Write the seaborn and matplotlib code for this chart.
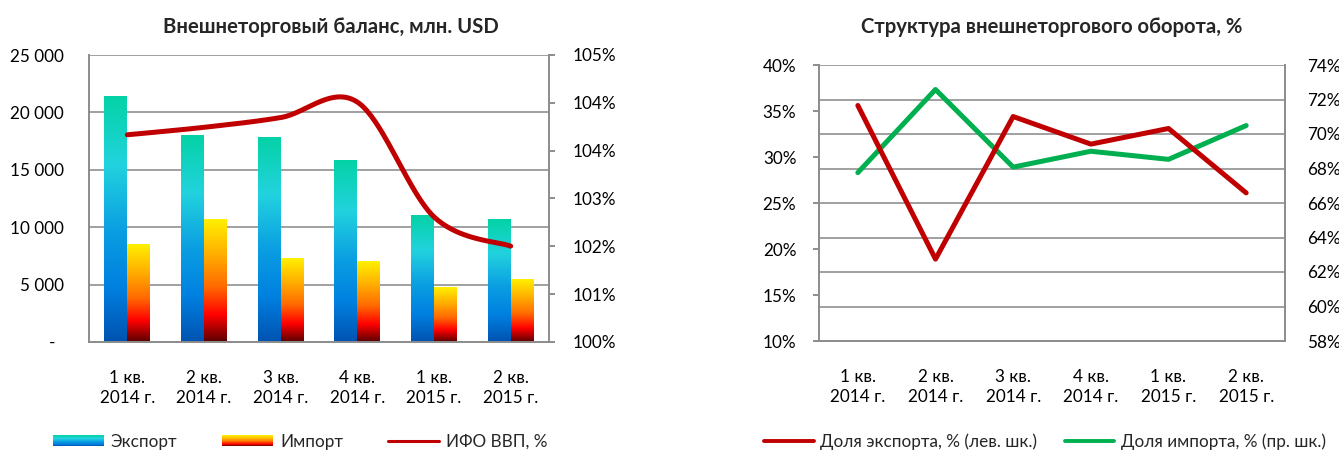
import numpy as np
import pandas as pd
import matplotlib
matplotlib.use("Agg")
import matplotlib.pyplot as plt
import seaborn as sns
from matplotlib.colors import LinearSegmentedColormap
from matplotlib.legend_handler import HandlerBase
from matplotlib.patches import Rectangle
from matplotlib.lines import Line2D
from matplotlib.ticker import FixedLocator, FixedFormatter

# ---------------- data ----------------
categories = ["1 кв.\n2014 г.", "2 кв.\n2014 г.", "3 кв.\n2014 г.",
              "4 кв.\n2014 г.", "1 кв.\n2015 г.", "2 кв.\n2015 г."]
export_vals = [21400, 17950, 17780, 15850, 11020, 10670]
import_vals = [8480, 10670, 7250, 6990, 4710, 5410]
ifo_vals = [103.61, 103.74, 103.91, 104.18, 102.18, 101.67]

export_share = [35.6, 18.9, 34.4, 31.4, 33.1, 26.1]
import_share = [67.76, 72.58, 68.08, 69.0, 68.53, 70.49]

left_ticks = [0, 5000, 10000, 15000, 20000, 25000]
left_tick_labels = ["-  ", "5 000", "10 000", "15 000", "20 000", "25 000"]
right_tick_labels = ["100%", "101%", "102%", "103%", "104%", "104%", "105%"]
share_left_ticks = [10, 15, 20, 25, 30, 35, 40]
share_right_ticks = [58, 60, 62, 64, 66, 68, 70, 72, 74]

title_left = "Внешнеторговый баланс, млн. USD"
title_right = "Структура внешнеторгового оборота, %"
lbl_export, lbl_import, lbl_ifo = "Экспорт", "Импорт", "ИФО ВВП, %"
lbl_exp_share = "Доля экспорта, % (лев. шк.)"
lbl_imp_share = "Доля импорта, % (пр. шк.)"

# ---------------- style ----------------
sns.set_theme(style="white")
plt.rcParams["font.family"] = ["Lato", "DejaVu Sans"]
FS = 12.3
GRID = "#A0A0A0"
SPINE = "#8C8C8C"
RED = "#C00000"
GREEN = "#00B050"
TL = 4.3  # tick length (pt)

cmap_exp = LinearSegmentedColormap.from_list(
    "exp", [(0.0, "#0052B0"), (0.22, "#0080E0"), (0.45, "#0A9EE2"),
            (0.72, "#22D2DE"), (1.0, "#04D3A6")])
cmap_imp = LinearSegmentedColormap.from_list(
    "imp", [(0.0, "#5A0000"), (0.22, "#FF0000"), (0.45, "#FF6A00"),
            (0.72, "#FFB000"), (1.0, "#FFF000")])

fig = plt.figure(figsize=(13.39, 4.5), dpi=100)
fig.patch.set_facecolor("white")

# ================= left chart =================
ax1 = fig.add_axes([89 / 1339, 1 - 342 / 450, 460 / 1339, 287 / 450])
df = pd.DataFrame({
    "cat": categories * 2,
    "series": [lbl_export] * 6 + [lbl_import] * 6,
    "value": export_vals + import_vals,
})
sns.barplot(data=df, x="cat", y="value", hue="series", ax=ax1,
            width=0.6, legend=False, saturation=1, errorbar=None,
            palette=["#10A0E0", "#FF6000"])
ax1.set_xlim(-0.5, 5.5)
ax1.set_ylim(0, 25000)
grad = np.linspace(0, 1, 256).reshape(-1, 1)
for cont, cm in zip(ax1.containers, [cmap_exp, cmap_imp]):
    for bar in cont:
        x0, w, h = bar.get_x(), bar.get_width(), bar.get_height()
        ax1.imshow(grad, extent=[x0, x0 + w, 0, h], aspect="auto",
                   cmap=cm, origin="lower", zorder=2, interpolation="bilinear")
        bar.set_visible(False)
ax1.set_xlim(-0.5, 5.5)
ax1.set_ylim(0, 25000)
ax1.set_xlabel("")
ax1.set_ylabel("")
ax1.yaxis.set_major_locator(FixedLocator(left_ticks))
ax1.yaxis.set_major_formatter(FixedFormatter(left_tick_labels))
ax1.grid(axis="y", color=GRID, linewidth=1.4)
ax1.grid(axis="x", visible=False)
ax1.set_axisbelow(True)
ax1.tick_params(axis="y", length=0, pad=18, labelsize=FS, labelcolor="black")
ax1.tick_params(axis="x", length=0, pad=20, labelsize=FS, labelcolor="black")
for lab in ax1.get_xticklabels():
    lab.set_linespacing(1.35)
for s in ["left", "bottom"]:
    ax1.spines[s].set_color(SPINE)
    ax1.spines[s].set_linewidth(1.4)
ax1.spines["top"].set_visible(False)
ax1.spines["right"].set_visible(False)

ax2 = ax1.twinx()
# Excel-like smoothing (Bezier/Catmull-Rom through the data points)
xs = np.arange(len(ifo_vals), dtype=float)
ys = np.asarray(ifo_vals, dtype=float)
P = np.column_stack([xs, ys])
curve = []
for i in range(len(P) - 1):
    p0 = P[i - 1] if i > 0 else P[i]
    p1, p2 = P[i], P[i + 1]
    p3 = P[i + 2] if i + 2 < len(P) else P[i + 1]
    c1 = p1 + (p2 - p0) / 6
    c2 = p2 - (p3 - p1) / 6
    t = np.linspace(0, 1, 40)[:, None]
    seg = ((1 - t) ** 3) * p1 + 3 * ((1 - t) ** 2) * t * c1 + 3 * (1 - t) * t ** 2 * c2 + t ** 3 * p2
    curve.append(seg if i == 0 else seg[1:])
curve = np.vstack(curve)
ax2.plot(curve[:, 0], curve[:, 1], color=RED, lw=3.6, solid_capstyle="round")
ax2.set_ylim(100, 105)
ax2.set_xlim(-0.5, 5.5)
ax2.yaxis.set_major_locator(FixedLocator(np.linspace(100, 105, 7)))
ax2.yaxis.set_major_formatter(FixedFormatter(right_tick_labels))
ax2.tick_params(axis="y", length=TL, width=1.4, color=SPINE, pad=12.5,
                labelsize=FS, labelcolor="black", right=True)
ax2.grid(False)
for s in ["left", "top", "bottom"]:
    ax2.spines[s].set_visible(False)
ax2.spines["right"].set_color(SPINE)
ax2.spines["right"].set_linewidth(1.4)

# ================= right chart =================
ax3 = fig.add_axes([819 / 1339, 1 - 341 / 450, 466 / 1339, 276 / 450])
ax4 = ax3.twinx()
ax3.set_zorder(ax4.get_zorder() + 1)
ax3.patch.set_visible(False)
ax4.patch.set_visible(True)
ax4.patch.set_facecolor("white")

sns.lineplot(x=categories, y=export_share, ax=ax3, color=RED, lw=3.6,
             sort=False, solid_capstyle="round")
sns.lineplot(x=categories, y=import_share, ax=ax4, color=GREEN, lw=3.6,
             sort=False, solid_capstyle="round")
for a in (ax3, ax4):
    a.set_xlim(-0.5, 5.5)
ax3.set_ylim(10, 40)
ax4.set_ylim(58, 74)
ax3.yaxis.set_major_locator(FixedLocator(share_left_ticks))
ax3.yaxis.set_major_formatter(FixedFormatter([f"{v}%" for v in share_left_ticks]))
ax4.yaxis.set_major_locator(FixedLocator(share_right_ticks))
ax4.yaxis.set_major_formatter(FixedFormatter([f"{v}%" for v in share_right_ticks]))
ax3.grid(False)
ax4.grid(axis="y", color=GRID, linewidth=1.4)
ax4.grid(axis="x", visible=False)
ax4.set_axisbelow(True)
ax3.tick_params(axis="y", length=TL, width=1.4, color=SPINE, pad=12,
                labelsize=FS, labelcolor="black", left=True)
ax3.tick_params(axis="x", length=0, pad=20, labelsize=FS, labelcolor="black")
for lab in ax3.get_xticklabels():
    lab.set_linespacing(1.35)
ax4.tick_params(axis="y", length=0, pad=16, labelsize=FS, labelcolor="black")
ax3.set_xlabel(""); ax3.set_ylabel(""); ax4.set_ylabel("")
for a in (ax3, ax4):
    for s in a.spines.values():
        s.set_visible(False)
for s in ["left", "bottom"]:
    ax3.spines[s].set_visible(True)
    ax3.spines[s].set_color(SPINE)
    ax3.spines[s].set_linewidth(1.4)
ax4.spines["right"].set_visible(True)
ax4.spines["right"].set_color(SPINE)
ax4.spines["right"].set_linewidth(1.4)

# ================= titles =================
fig.text(331 / 1339, 1 - 27 / 450, title_left, ha="center", va="center",
         fontsize=14.6, fontweight="bold")
fig.text(1052 / 1339, 1 - 27 / 450, title_right, ha="center", va="center",
         fontsize=14.6, fontweight="bold")

# ================= legends =================
class GradHandler(HandlerBase):
    def __init__(self, cm):
        super().__init__()
        self.cm = cm

    def create_artists(self, legend, orig_handle, xdescent, ydescent,
                       width, height, fontsize, trans):
        n = 24
        arts = []
        for i in range(n):
            r = Rectangle((-xdescent, -ydescent + i * height / n), width,
                          height / n + 0.3, facecolor=self.cm((i + 0.5) / n),
                          edgecolor="none", lw=0, transform=trans)
            arts.append(r)
        return arts

h_exp = Rectangle((0, 0), 1, 1)
h_imp = Rectangle((0, 0), 1, 1)
h_ifo = Line2D([], [], color=RED, lw=2.2)
leg1 = fig.legend([h_exp, h_imp, h_ifo], [lbl_export, lbl_import, lbl_ifo],
                  handler_map={h_exp: GradHandler(cmap_exp), h_imp: GradHandler(cmap_imp)},
                  loc="center", bbox_to_anchor=(300 / 1339, 1 - 442 / 450), ncol=3,
                  frameon=False, fontsize=FS, handlelength=3.0, handleheight=0.6,
                  columnspacing=2.6, handletextpad=0.4)

h_e = Line2D([], [], color=RED, lw=2.8)
h_i = Line2D([], [], color=GREEN, lw=2.8)
leg2 = fig.legend([h_e, h_i], [lbl_exp_share, lbl_imp_share],
                  loc="center", bbox_to_anchor=(1045 / 1339, 1 - 442 / 450), ncol=2,
                  frameon=False, fontsize=FS, handlelength=2.9,
                  columnspacing=1.6, handletextpad=0.4)

fig.savefig("out.png", dpi=100, facecolor="white")
